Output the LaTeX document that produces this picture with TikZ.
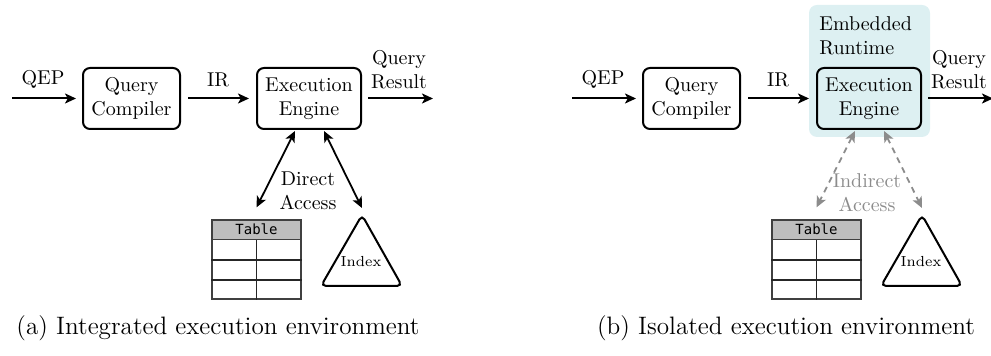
\documentclass[tikz,border=0pt]{standalone}
\usepackage{fontspec}
\setmonofont{DejaVu Sans Mono}
\usetikzlibrary{arrows.meta}
\definecolor{rtcyan}{RGB}{221,240,242}
\definecolor{hdgray}{RGB}{190,190,190}
\definecolor{accgray}{RGB}{140,140,140}
\newcommand{\lblfont}{\fontsize{10}{12}\selectfont}
\tikzset{
  blk/.style={draw, rounded corners=3.5pt, line width=1pt, align=center,
    minimum width=48.5pt, minimum height=30.5pt, inner sep=0pt, font=\lblfont},
  lbl/.style={align=center, font=\lblfont, inner sep=0pt},
  flow/.style={-{Stealth[length=5.5pt,width=5pt,inset=1.4pt]}, line width=1pt},
  acc/.style={{Stealth[length=5.5pt,width=5pt,inset=1.4pt]}-{Stealth[length=5.5pt,width=5pt,inset=1.4pt]}, line width=0.9pt},
  indacc/.style={acc, accgray, dash pattern=on 3pt off 2.5pt},
  tblbox/.style={draw=black!75, line width=0.6pt, minimum width=44.5pt, minimum height=39.5pt, inner sep=0pt},
  tblhead/.style={draw=black!75, fill=hdgray, line width=0.6pt, minimum width=44.5pt, minimum height=9.75pt,
    inner sep=0pt, anchor=north, font=\ttfamily\fontsize{7}{8}\selectfont},
  caption/.style={font=\fontsize{12.6}{15}\selectfont, inner sep=0pt}
}
\begin{document}
\begin{tikzpicture}[x=0.5pt,y=-0.5pt]
\useasboundingbox (0,0) rectangle (991,356);
% (a) integrated
\coordinate (ina) at (12,98.5);
\coordinate (outa) at (433,98.5);
\node[blk] (qca) at (131.5,98.5) {Query\\Compiler};
\node[blk, minimum width=52pt] (eea) at (309,98.5) {Execution\\Engine};
\draw[flow, shorten >=3pt] (ina) -- (qca);
\draw[flow, shorten <=3.5pt, shorten >=3.5pt] (qca) -- (eea);
\draw[flow, shorten <=3pt] (eea) -- (outa);
\node[lbl] (qepa) at (43,79) {QEP};
\node[lbl] (ira) at (218,80) {IR};
\node[lbl] (resa) at (399,70) {Query\\Result};
\node[tblbox] (tbla) at (256.5,259.5) {};
\node[tblhead] (tblha) at (tbla.north) {Table};
\draw[line width=0.6pt, black!85] ([yshift=-10pt]tblha.south west) -- ([yshift=-10pt]tblha.south east);
\draw[line width=0.6pt, black!85] ([yshift=-20pt]tblha.south west) -- ([yshift=-20pt]tblha.south east);
\draw[line width=0.6pt, black!85] (tblha.south) -- (tbla.south);
\draw[line width=1pt, rounded corners=2.5pt] (362,215) -- (402,286) -- (321,286) -- cycle;
\coordinate (idxa) at (362,215);
\node[font=\fontsize{7.3}{9}\selectfont, inner sep=0pt] (ixa) at (361,262) {Index};
\draw[acc] ([xshift=-7pt,yshift=-0.5pt]eea.south) -- ([yshift=6pt]tbla.north);
\draw[acc] ([xshift=7.5pt,yshift=-0.5pt]eea.south) -- ([yshift=3.5pt]idxa);
\node[lbl] (daa) at (308,191) {Direct\\Access};
\node[caption] (capa) at (218,328) {(a) Integrated execution environment};
% (b) isolated
\begin{scope}[xshift=280pt]
\fill[rtcyan, rounded corners=4pt] (249,5) rectangle (370,137);
\node[lbl, align=left, anchor=west] (rtb) at (259,36) {Embedded\\Runtime};
\coordinate (inb) at (12,98.5);
\coordinate (outb) at (433,98.5);
\node[blk] (qcb) at (131.5,98.5) {Query\\Compiler};
\node[blk, minimum width=52pt] (eeb) at (309,98.5) {Execution\\Engine};
\draw[flow, shorten >=3pt] (inb) -- (qcb);
\draw[flow, shorten <=3.5pt, shorten >=3.5pt] (qcb) -- (eeb);
\draw[flow, shorten <=3pt] (eeb) -- (outb);
\node[lbl] (qepb) at (43,79) {QEP};
\node[lbl] (irb) at (218,80) {IR};
\node[lbl] (resb) at (399,70) {Query\\Result};
\node[tblbox] (tblb) at (256.5,259.5) {};
\node[tblhead] (tblhb) at (tblb.north) {Table};
\draw[line width=0.6pt, black!85] ([yshift=-10pt]tblhb.south west) -- ([yshift=-10pt]tblhb.south east);
\draw[line width=0.6pt, black!85] ([yshift=-20pt]tblhb.south west) -- ([yshift=-20pt]tblhb.south east);
\draw[line width=0.6pt, black!85] (tblhb.south) -- (tblb.south);
\draw[line width=1pt, rounded corners=2.5pt] (362,215) -- (402,286) -- (321,286) -- cycle;
\coordinate (idxb) at (362,215);
\node[font=\fontsize{7.3}{9}\selectfont, inner sep=0pt] (ixb) at (361,262) {Index};
\draw[indacc] ([xshift=-7pt,yshift=-0.5pt]eeb.south) -- ([yshift=6pt]tblb.north);
\draw[indacc] ([xshift=7.5pt,yshift=-0.5pt]eeb.south) -- ([yshift=3.5pt]idxb);
\node[lbl, text=accgray] (iab) at (307,193) {Indirect\\Access};
\node[caption] (capb) at (226,328) {(b) Isolated execution environment};
\end{scope}
\end{tikzpicture}
\end{document}
